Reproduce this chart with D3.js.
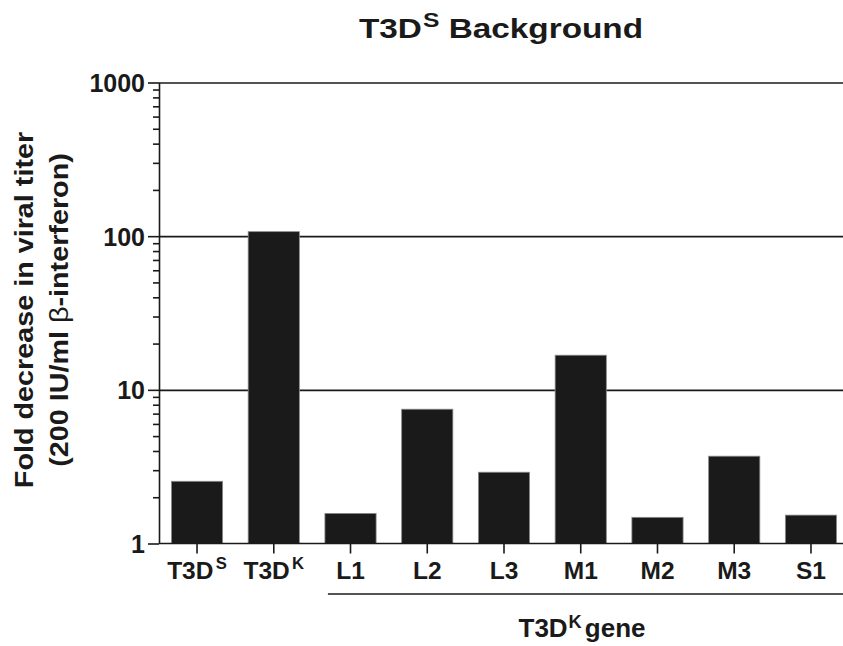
<!DOCTYPE html>
<html>
<head>
<meta charset="utf-8">
<script src="https://cdn.jsdelivr.net/npm/d3@7"></script>
<style>
    body { margin: 0; background: #fff; }
    svg { display: block; font-family: "Liberation Sans", Arial, sans-serif; }
    .axis path, .axis line { stroke: #1a1a1a; stroke-width: 1.6; }
    .axis text { font-weight: bold; fill: #1a1a1a; }
    .yaxis text { font-size: 25px; }
    .xaxis text { font-size: 24.5px; }
</style>
</head>
<body>
<div id="chart"></div>
<script>
//Datos
const categories = ['T3DS', 'T3DK', 'L1', 'L2', 'L3', 'M1', 'M2', 'M3', 'S1'];
const tickBase = ['T3D', 'T3D', 'L1', 'L2', 'L3', 'M1', 'M2', 'M3', 'S1'];
const tickSup = ['S', 'K', '', '', '', '', '', '', ''];
const values = [2.54, 107, 1.57, 7.48, 2.91, 16.8, 1.48, 3.70, 1.53];
const yMajorTicks = [1, 10, 100, 1000];
const gridTicks = [10, 100, 1000];
const geneGroup = ['L1', 'S1'];

let width = 843, height = 646;
let margin = {top: 82.5, left: 159, bottom: 102.5};

let svg = d3.select('#chart')
    .append('svg')
        .attr('width', width)
        .attr('height', height);

let x = d3.scaleBand()
    .domain(categories)
    .range([margin.left, 849])
    .paddingInner(0.333)
    .paddingOuter(0.162);

let y = d3.scaleLog()
    .domain([1, 1000])
    .range([height - margin.bottom, margin.top]);

//Lineas de referencia
svg.append('g')
    .attr('class', 'axis grid')
    .attr('transform', 'translate(' + margin.left + ',0)')
    .call(d3.axisRight(y).tickValues(gridTicks).tickSize(width - margin.left).tickFormat(''))
    .call(g => g.select('.domain').remove());

//Barras
svg.append('g')
    .selectAll('rect')
    .data(values)
    .enter()
    .append('rect')
    .attr('x', (d, i) => x(categories[i]))
    .attr('y', d => y(d))
    .attr('width', x.bandwidth())
    .attr('height', d => y(1) - y(d))
    .attr('fill', '#1a1a1a')
    .attr('stroke', '#8a8a8a')
    .attr('stroke-width', 0.8);

//Eje Y: menores
let minor = y.ticks().filter(d => yMajorTicks.indexOf(d) < 0);
svg.append('g')
    .attr('class', 'axis')
    .attr('transform', 'translate(' + margin.left + ',0)')
    .call(d3.axisLeft(y).tickValues(minor).tickSize(6).tickFormat(''))
    .call(g => g.select('.domain').remove());

//Eje Y: mayores
svg.append('g')
    .attr('class', 'axis yaxis')
    .attr('transform', 'translate(' + margin.left + ',0)')
    .call(d3.axisLeft(y).tickValues(yMajorTicks).tickSize(11).tickSizeOuter(0).tickPadding(3).tickFormat(d3.format('d')))
    .call(g => g.selectAll('.tick text').attr('dy', '0.36em'));

//Eje X
let xAxis = svg.append('g')
    .attr('class', 'axis xaxis')
    .attr('transform', 'translate(0,' + y(1) + ')')
    .call(d3.axisBottom(x).tickSize(10).tickSizeOuter(0).tickPadding(8));

xAxis.select('.domain').attr('d', 'M' + margin.left + ',0H' + width);

xAxis.selectAll('.tick text')
    .text(null)
    .each(function(d, i) {
        let t = d3.select(this);
        t.append('tspan').text(tickBase[i]);
        if (tickSup[i]) {
            t.append('tspan').attr('dy', '-0.58em').attr('font-size', '0.68em').attr('dx', '0.14em').text(tickSup[i]);
        }
    });

//Agrupación de genes
let gx0 = x(geneGroup[0]) + 3;
let gx1 = width;
svg.append('line')
    .attr('x1', gx0).attr('x2', gx1)
    .attr('y1', 594).attr('y2', 594)
    .attr('stroke', '#1a1a1a')
    .attr('stroke-width', 1.6);

let gl = svg.append('text')
    .attr('x', 582)
    .attr('y', 637)
    .attr('text-anchor', 'middle')
    .attr('font-size', '26px')
    .attr('font-weight', 'bold')
    .attr('fill', '#1a1a1a');
gl.append('tspan').text('T3D');
gl.append('tspan').attr('dy', '-0.5em').attr('font-size', '0.7em').attr('dx', '0.05em').text('K');
gl.append('tspan').attr('dy', '0.35em').attr('dx', '0.12em').text('gene');

//Titulo
let title = svg.append('text')
    .attr('transform', 'translate(501,38) scale(1.17,1)')
    .attr('text-anchor', 'middle')
    .attr('font-size', '28.5px')
    .attr('font-weight', 'bold')
    .attr('fill', '#1a1a1a');
title.append('tspan').text('T3D');
title.append('tspan').attr('dy', '-0.5em').attr('font-size', '0.74em').attr('dx', '0.04em').text('S');
title.append('tspan').attr('dy', '0.37em').text(' Background');

//Titulo eje Y
let yl = svg.append('text')
    .attr('transform', 'translate(33,310) rotate(-90) scale(1.15,1)')
    .attr('text-anchor', 'middle')
    .attr('font-size', '25px')
    .attr('font-weight', 'bold')
    .attr('fill', '#1a1a1a');
yl.append('tspan').attr('x', 0).attr('dy', 0).text('Fold decrease in viral titer');
let yl2 = yl.append('tspan').attr('x', 0).attr('dy', '1.4em');
yl2.text('(200 IU/ml ');
yl.append('tspan').attr('font-weight', 'normal').text('β');
yl.append('tspan').text('-interferon)');
</script>
</body>
</html>
